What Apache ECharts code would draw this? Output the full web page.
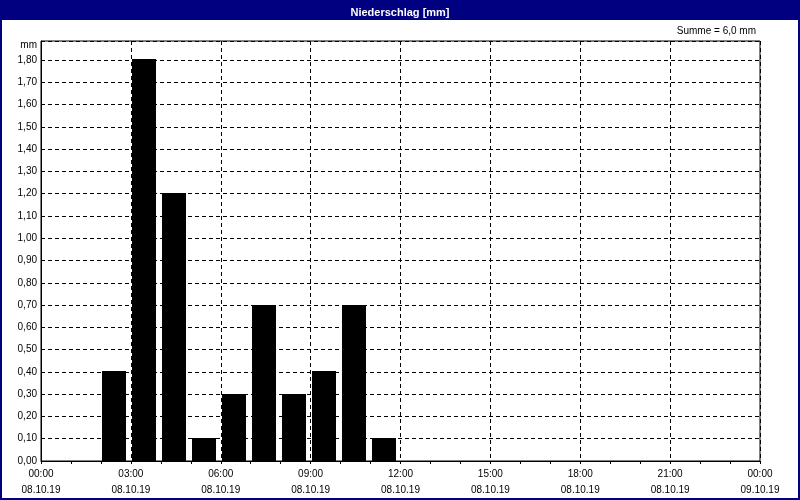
<!DOCTYPE html>
<html>
<head>
<meta charset="utf-8">
<script src="https://cdn.jsdelivr.net/npm/echarts@6/dist/echarts.min.js"></script>
<style>html,body{margin:0;padding:0;background:#fff}#c{width:800px;height:500px}</style>
</head>
<body>
<div id="c"></div>
<script>
var startHours = [2, 3, 4, 5, 6, 7, 8, 9, 10, 11];
var values = [0.4, 1.8, 1.2, 0.1, 0.3, 0.7, 0.3, 0.4, 0.7, 0.1];
var timeLabels = ['00:00', '03:00', '06:00', '09:00', '12:00', '15:00', '18:00', '21:00', '00:00'];
var dateLabels = ['08.10.19', '08.10.19', '08.10.19', '08.10.19', '08.10.19', '08.10.19', '08.10.19', '08.10.19', '09.10.19'];
var titleText = 'Niederschlag [mm]';
var sumText = 'Summe = 6,0 mm';
var unitText = 'mm';

var FONT = '"Liberation Sans", Arial, sans-serif';
var NAVY = '#000080';

var chart = echarts.init(document.getElementById('c'), null, {renderer: 'canvas'});
var data = startHours.map(function (h, i) { return [h, values[i]]; });

chart.setOption({
  animation: false,
  backgroundColor: '#ffffff',
  title: {
    text: titleText,
    left: 'center',
    top: 2,
    textStyle: {color: '#ffffff', fontFamily: FONT, fontSize: 11, fontWeight: 'bold'}
  },
  graphic: [
    {type: 'rect', z: -10, shape: {x: 0, y: 0, width: 800, height: 20}, style: {fill: NAVY}},
    {type: 'rect', z: 100, shape: {x: 1, y: 1, width: 798, height: 498}, style: {fill: 'none', stroke: NAVY, lineWidth: 2}},
    {type: 'text', x: 756, y: 31, style: {text: sumText, textAlign: 'right', textVerticalAlign: 'middle', fill: '#000', font: '10px ' + FONT}},
    {type: 'text', x: 37, y: 45, style: {text: unitText, textAlign: 'right', textVerticalAlign: 'middle', fill: '#000', font: '10px ' + FONT}}
  ],
  grid: {left: 41, right: 40, top: 41, bottom: 39, show: true, borderColor: '#000', borderWidth: 1, backgroundColor: '#fff'},
  xAxis: {
    type: 'value',
    min: 0, max: 24, interval: 3,
    axisLine: {show: true, lineStyle: {color: '#000', width: 1}},
    axisTick: {show: true, length: 3, lineStyle: {color: '#000'}},
    minorTick: {show: true, splitNumber: 3, length: 3, lineStyle: {color: '#000'}},
    splitLine: {show: true, lineStyle: {color: '#000', type: [4, 3], width: 1}},
    axisLabel: {
      margin: 5,
      color: '#000',
      fontFamily: FONT,
      fontSize: 10,
      lineHeight: 16,
      formatter: function (v) {
        var i = Math.round(v / 3);
        return timeLabels[i] + '\n' + dateLabels[i];
      }
    }
  },
  yAxis: {
    type: 'value',
    min: 0, max: 1.885, interval: 0.1,
    axisLine: {show: true, lineStyle: {color: '#000', width: 1}},
    axisTick: {show: false},
    splitLine: {show: true, lineStyle: {color: '#000', type: [4, 3], width: 1}},
    axisLabel: {
      margin: 4,
      color: '#000',
      fontFamily: FONT,
      fontSize: 10,
      showMaxLabel: false,
      formatter: function (v) {
        if (Math.abs(v * 10 - Math.round(v * 10)) > 0.01) return '';
        return v.toFixed(2).replace('.', ',');
      }
    }
  },
  series: [{
    type: 'custom',
    data: data,
    z: 10,
    clip: false,
    renderItem: function (params, api) {
      var h = api.value(0), v = api.value(1);
      var p0 = api.coord([h, 0]);
      var p1 = api.coord([h + 1, v]);
      var top = Math.floor(p1[1]);
      var bottom = Math.round(p0[1]);
      return {
        type: 'rect',
        z2: 10,
        shape: {x: Math.round(p0[0]) + 1, y: top, width: Math.round(p1[0] - p0[0]) - 6, height: bottom - top},
        style: {fill: '#000', stroke: null}
      };
    }
  }]
});
</script>
</body>
</html>
